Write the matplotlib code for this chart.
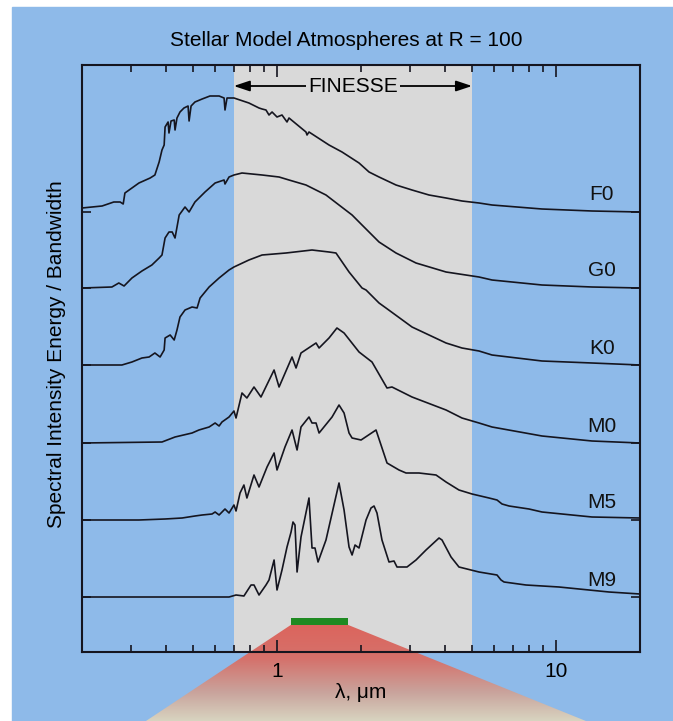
import numpy as np
import matplotlib.pyplot as plt
from matplotlib.patches import Polygon, Rectangle
from matplotlib.colors import LinearSegmentedColormap
from matplotlib.ticker import NullFormatter
from matplotlib.transforms import blended_transform_factory

plt.rcParams['font.family'] = ['Liberation Sans', 'DejaVu Sans']
plt.rcParams['font.size'] = 15

# spectra: wavelength (um) and height above each baseline
F0_wl = [0.200, 0.236, 0.260, 0.274, 0.281, 0.285, 0.302, 0.320, 0.351, 0.365,
         0.378, 0.387, 0.394, 0.397, 0.407, 0.410, 0.417, 0.428, 0.431, 0.438,
         0.449, 0.464, 0.480, 0.484, 0.492, 0.508, 0.539, 0.575, 0.620, 0.646,
         0.651, 0.662, 0.701, 0.793, 0.862, 0.884, 0.913, 0.936, 0.960, 1.000,
         1.042, 1.086, 1.104, 1.270, 1.281, 1.302, 1.536, 1.710, 1.968, 2.137,
         2.321, 2.670, 3.047, 3.506, 4.035, 4.602, 5.297, 5.897, 8.908, 13.46, 20.0]
F0_flux = [4, 6, 10, 10, 8, 19, 24, 29, 34, 37,
           50, 62, 67, 85, 90, 79, 91, 92, 82, 94,
           100, 104, 106, 91, 106, 110, 113, 116, 116, 114,
           102, 114, 114, 109, 104, 103, 102, 97, 100, 95,
           97, 90, 94, 80, 77, 80, 67, 60, 49, 40,
           35, 27, 22, 17, 14, 11, 9, 7, 3, 1, 0]

G0_wl = [0.200, 0.256, 0.271, 0.283, 0.302, 0.328, 0.356, 0.378, 0.387, 0.397,
         0.410, 0.421, 0.431, 0.446, 0.468, 0.484, 0.508, 0.552, 0.600, 0.646,
         0.651, 0.673, 0.701, 0.749, 0.884, 1.017, 1.104, 1.270, 1.498, 1.668,
         1.858, 2.017, 2.321, 2.670, 3.149, 4.035, 5.297, 5.897, 8.908, 13.46, 20.0]
G0_flux = [0, 1, 5, 2, 10, 17, 23, 30, 33, 50,
           56, 56, 50, 73, 81, 76, 86, 96, 105, 108,
           104, 111, 113, 115, 113, 111, 108, 103, 93, 83,
           73, 63, 46, 35, 25, 16, 11, 8, 3, 1, 0]

K0_wl = [0.200, 0.278, 0.302, 0.328, 0.348, 0.365, 0.381, 0.394, 0.397, 0.414,
         0.428, 0.438, 0.449, 0.468, 0.496, 0.517, 0.530, 0.571, 0.620, 0.673,
         0.701, 0.793, 0.884, 1.077, 1.335, 1.536, 1.627, 1.812, 2.017, 2.085,
         2.321, 2.458, 3.047, 4.035, 4.602, 5.297, 5.897, 8.908, 13.46, 20.0]
K0_flux = [0, 0, 3, 7, 8, 12, 8, 15, 27, 30,
           25, 35, 48, 55, 58, 57, 67, 78, 87, 95,
           98, 105, 110, 112, 115, 113, 112, 93, 77, 75,
           62, 57, 38, 22, 17, 14, 10, 4, 2, 0]

M0_wl = [0.200, 0.387, 0.431, 0.496, 0.525, 0.571, 0.600, 0.620, 0.635, 0.673,
         0.701, 0.713, 0.749, 0.780, 0.827, 0.876, 0.976, 1.017, 1.132, 1.170,
         1.219, 1.380, 1.415, 1.536, 1.640, 1.739, 1.968, 2.190, 2.479, 2.583,
         3.047, 4.035, 4.602, 5.297, 5.897, 8.908, 13.46, 20.0]
M0_flux = [0, 1, 6, 10, 13, 16, 20, 17, 21, 26,
           32, 25, 50, 45, 56, 46, 73, 56, 86, 75,
           90, 100, 95, 105, 115, 110, 91, 81, 55, 56,
           46, 33, 25, 20, 16, 7, 2, 0]

M5_wl = [0.200, 0.320, 0.397, 0.457, 0.508, 0.539, 0.585, 0.600, 0.620, 0.651,
         0.673, 0.701, 0.713, 0.737, 0.761, 0.780, 0.827, 0.862, 0.921, 0.976,
         1.000, 1.068, 1.132, 1.180, 1.219, 1.302, 1.335, 1.380, 1.415, 1.575,
         1.668, 1.739, 1.812, 1.858, 2.001, 2.264, 2.479, 2.737, 2.900, 3.228,
         3.715, 4.035, 4.489, 5.000, 5.753, 6.145, 6.405, 6.787, 8.001, 8.908,
         13.46, 20.0]
M5_flux = [0, 0, 1, 2, 4, 5, 6, 8, 5, 11,
           7, 15, 9, 27, 35, 22, 45, 33, 53, 67,
           50, 73, 90, 70, 93, 103, 97, 97, 87, 103,
           115, 107, 87, 82, 80, 90, 57, 50, 47, 47,
           45, 38, 30, 26, 22, 20, 16, 14, 11, 8,
           3, 2]

M9_wl = [0.200, 0.673, 0.713, 0.761, 0.807, 0.827, 0.862, 0.913, 0.936, 0.976,
         1.000, 1.042, 1.086, 1.123, 1.141, 1.160, 1.180, 1.219, 1.302, 1.335,
         1.368, 1.403, 1.498, 1.668, 1.739, 1.812, 1.858, 1.904, 1.968, 2.085,
         2.172, 2.227, 2.282, 2.378, 2.520, 2.626, 2.692, 2.924, 3.149, 3.420,
         3.808, 3.903, 4.205, 4.489, 5.297, 6.145, 6.352, 6.512, 7.805, 10.25,
         15.49, 20.0]
M9_flux = [0, 0, 2, 1, 12, 12, 2, 12, 17, 37,
           7, 27, 50, 65, 75, 72, 25, 60, 99, 49,
           49, 35, 57, 114, 87, 50, 42, 52, 49, 77,
           89, 91, 84, 57, 35, 36, 30, 30, 37, 47,
           59, 57, 40, 30, 25, 22, 17, 15, 12, 10,
           5, 3]

spec_types = ['F0', 'G0', 'K0', 'M0', 'M5', 'M9']
offsets = [440, 364, 287, 209, 132, 55]
spectra = [(F0_wl, F0_flux), (G0_wl, G0_flux), (K0_wl, K0_flux),
           (M0_wl, M0_flux), (M5_wl, M5_flux), (M9_wl, M9_flux)]

finesse = (0.7, 5.0)
band = (1.12, 1.80)
# cone from the green band down to the bottom of the figure
cone_bottom = (0.339, 12.8)

BLUE = '#8ebae9'
GRAY = '#d9d9d9'
INK = '#15151f'

fig = plt.figure(figsize=(6.73, 7.21), dpi=100, facecolor='white')
bg = fig.add_axes([0, 0, 1, 1], zorder=0)
bg.axis('off')

ax = fig.add_axes([82/673, 1 - 652/721, 558/673, 587/721], zorder=1)
ax.patch.set_alpha(0)
ax.set_xscale('log')
ax.set_xlim(0.2, 20)
ax.set_ylim(0, 587)
y_fig_bottom = -69  # data y at the figure's lower edge

bg.add_patch(Rectangle((12/673, 0), 1, 1 - 7/721, color=BLUE, zorder=0))
span_tr = blended_transform_factory(ax.transData, ax.transAxes)
bg.add_patch(Rectangle((finesse[0], 0), finesse[1] - finesse[0], 1,
                       transform=span_tr, color=GRAY, zorder=1, lw=0))

# red gradient cone
cmap = LinearSegmentedColormap.from_list('cone', [(0.0, '#dc655d'), (0.35, '#d5716b'),
                                                  (0.7, '#c9a39c'), (1.0, '#d8d4c0')])
top_fig = fig.transFigure.inverted().transform(ax.transData.transform((1.0, 27)))[1]
im = bg.imshow(np.linspace(0, 1, 256)[:, None], extent=[0, 1, 0, top_fig],
               aspect='auto', cmap=cmap, zorder=2, interpolation='bilinear')
cone = Polygon([(band[0], 27), (band[1], 27), (cone_bottom[1], y_fig_bottom),
                (cone_bottom[0], y_fig_bottom)], closed=True, transform=ax.transData)
im.set_clip_path(cone)
bg.set_xlim(0, 1)
bg.set_ylim(0, 1)

ax.add_patch(Rectangle((band[0], 27), band[1] - band[0], 7, color='#1f8a22',
                       zorder=3, lw=0, clip_on=False))

for name, off, (wl, fl) in zip(spec_types, offsets, spectra):
    ax.plot(wl, off + np.array(fl), color=INK, lw=1.2, zorder=4)
    ax.text(14.6, off + 17, name, ha='center', va='center', fontsize=15, color='#111111')

ax.annotate('', xy=(finesse[0], 566), xytext=(finesse[1], 566),
            arrowprops=dict(arrowstyle='<|-|>,head_length=0.6,head_width=0.2',
                            color='black', lw=1.3, mutation_scale=16,
                            shrinkA=0, shrinkB=0), zorder=5)
ax.text(np.sqrt(finesse[0] * finesse[1]), 566, 'FINESSE', ha='center', va='center',
        fontsize=15, zorder=6, bbox=dict(facecolor=GRAY, edgecolor='none', pad=1.5))

ax.set_xticks([1, 10])
ax.set_xticklabels(['1', '10'])
ax.set_xticks([0.2, 0.3, 0.4, 0.5, 0.6, 0.7, 0.8, 0.9, 2, 3, 4, 5, 6, 7, 8, 9, 20], minor=True)
ax.xaxis.set_minor_formatter(NullFormatter())
ax.tick_params(axis='x', which='both', direction='in', top=True, bottom=True,
               width=1.2, color=INK, labelsize=15, pad=7)
ax.tick_params(axis='x', which='major', length=8.5)
ax.tick_params(axis='x', which='minor', length=5)
ax.set_yticks(offsets)
ax.tick_params(axis='y', direction='in', left=True, right=True, length=6.5,
               width=1.2, color=INK, labelleft=False)
for sp in ax.spines.values():
    sp.set_color(INK)
    sp.set_linewidth(1.5)

ax.set_xlabel('λ, μm', fontsize=15, labelpad=2)
fig.text(57/673, 1 - 354/721, 'Spectral Intensity Energy / Bandwidth', rotation=90,
         ha='center', va='center', fontsize=15)
fig.text(346/673, 1 - 41/721, 'Stellar Model Atmospheres at R = 100',
         ha='center', va='center', fontsize=15)

fig.savefig('out.png', dpi=100)
